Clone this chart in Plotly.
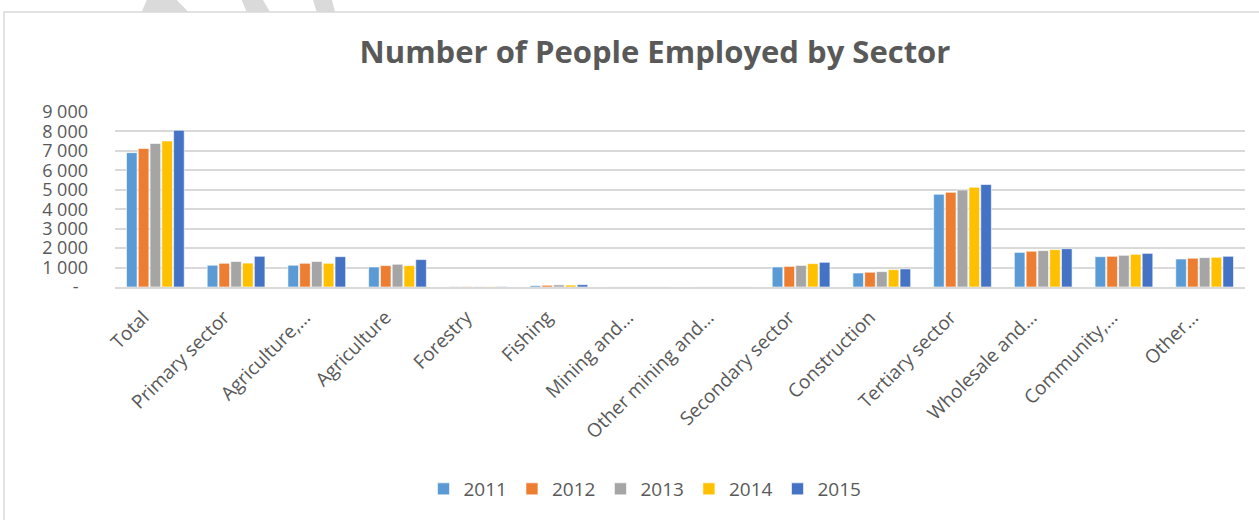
import plotly.graph_objects as go

categories = ["Total", "Primary sector", "Agriculture,…", "Agriculture", "Forestry", "Fishing",
              "Mining and…", "Other mining and…", "Secondary sector", "Construction",
              "Tertiary sector", "Wholesale and…", "Community,…", "Other…"]
years = ["2011", "2012", "2013", "2014", "2015"]
v2011 = [6910, 1120, 1120, 1030, 15, 70, 3, 2, 1030, 720, 4770, 1780, 1560, 1440]
v2012 = [7120, 1220, 1220, 1100, 18, 90, 3, 2, 1060, 760, 4870, 1840, 1580, 1480]
v2013 = [7380, 1310, 1310, 1170, 17, 110, 3, 2, 1110, 790, 4990, 1870, 1630, 1510]
v2014 = [7510, 1230, 1220, 1100, 15, 100, 3, 2, 1200, 890, 5130, 1920, 1680, 1530]
v2015 = [8060, 1580, 1560, 1410, 20, 120, 3, 2, 1270, 930, 5270, 1970, 1730, 1580]
series = [v2011, v2012, v2013, v2014, v2015]
colors = ["#5B9BD5", "#ED7D31", "#A5A5A5", "#FFC000", "#4472C4"]
tick_vals = [0, 1000, 2000, 3000, 4000, 5000, 6000, 7000, 8000, 9000]
tick_text = ["-\u00a0\u00a0", "1 000", "2 000", "3 000", "4 000", "5 000", "6 000", "7 000", "8 000", "9 000"]

W, H = 1259, 520
# plot area in window pixels: x 115..1245, y 112..287
L, R, T, B = 115, 1259 - 1245, 112, 520 - 287
PW, PH = W - L - R, H - T - B


def px(x):
    return (x - L) / PW


def py(y):
    return (H - B - y) / PH


fig = go.Figure()
for name, vals, c in zip(years, series, colors):
    fig.add_trace(go.Bar(x=categories, y=vals, name=name, marker_color=c,
                         marker_line=dict(color="rgba(255,255,255,0.6)", width=1)))

font = "Open Sans, Calibri, sans-serif"
shapes = []
for pts in [[(141.7, 12), (146.7, 0), (176.7, 0), (188.3, 12)],
            [(241.7, 0), (263, 0), (270, 12), (246.7, 12)],
            [(313, 0), (332, 0), (335, 12), (316.7, 12)]]:
    path = "M " + " L ".join(f"{px(a):.5f},{py(b):.5f}" for a, b in pts) + " Z"
    shapes.append(dict(type="path", xref="paper", yref="paper", path=path,
                       fillcolor="#DADADA", line=dict(width=0), layer="below"))
shapes.append(dict(type="rect", xref="paper", yref="paper", x0=px(4), x1=px(1275), y0=py(540), y1=py(12),
                   line=dict(color="#D9D9D9", width=1.5), fillcolor="rgba(0,0,0,0)", layer="below"))

fig.update_layout(
    width=W, height=H,
    margin=dict(l=L, r=R, t=T, b=B),
    paper_bgcolor="white", plot_bgcolor="white",
    title=dict(text="<b>Number of People Employed by Sector</b>", x=655 / W, xref="container",
               y=1 - 52 / H, yref="container", xanchor="center", yanchor="middle",
               font=dict(family=font, size=31, color="#595959")),
    barmode="group", bargap=0.27, bargroupgap=0.1,
    font=dict(family=font, color="#595959"),
    showlegend=True,
    legend=dict(orientation="h", x=px(645), xanchor="center", y=py(489), yanchor="middle",
                font=dict(size=19, color="#595959"), bgcolor="rgba(0,0,0,0)"),
    shapes=shapes,
)
fig.update_yaxes(range=[0, 9000], tickvals=tick_vals, ticktext=tick_text,
                 showgrid=True, gridcolor="#D9D9D9", gridwidth=1.5, zeroline=False,
                 showline=False, ticks="", ticklabelstandoff=26,
                 tickfont=dict(size=18, color="#595959"))
fig.update_xaxes(tickangle=-45, showgrid=False, showline=True, linecolor="#D9D9D9", linewidth=1.5,
                 ticks="", ticklabelstandoff=10, ticklabelshift=-12,
                 tickfont=dict(size=19, color="#595959"))

fig.write_html("out.html", config={"displayModeBar": False},
               post_script="document.body.style.margin='0';")
